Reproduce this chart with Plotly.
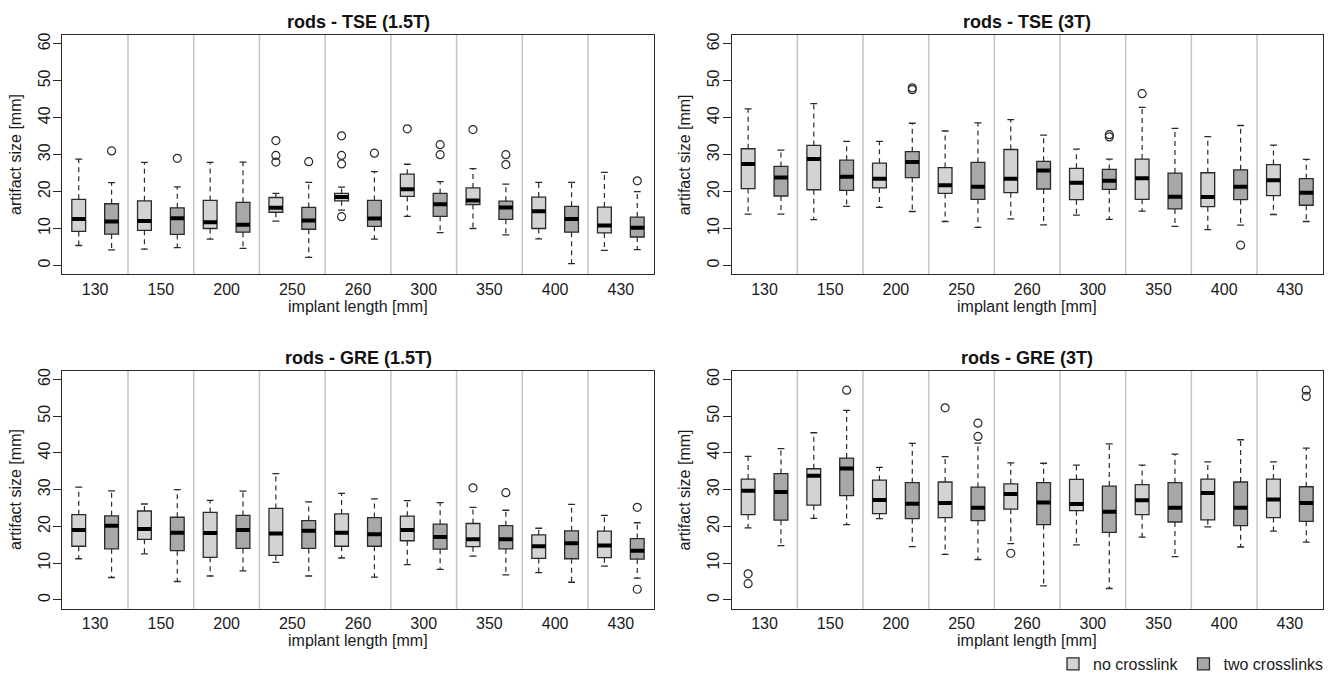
import plotly.graph_objects as go

# ---------------- data ----------------
lengths = ["130", "150", "200", "250", "260", "300", "350", "400", "430"]
groups = ["no crosslink", "two crosslinks"]
panel_titles = ["rods - TSE (1.5T)", "rods - TSE (3T)", "rods - GRE (1.5T)", "rods - GRE (3T)"]

# each array: [130 no, 130 two, 150 no, 150 two, ...]
tse15_lo = [5.4, 4.2, 4.4, 4.8, 7.1, 4.6, 12.0, 2.2, 15.0, 7.1, 13.3, 8.9, 10.0, 8.3, 7.2, 0.5, 4.1, 4.3]
tse15_q1 = [9.2, 8.5, 9.5, 8.4, 10.0, 9.0, 14.4, 9.8, 17.5, 10.6, 18.7, 13.3, 16.5, 12.5, 10.0, 9.0, 8.8, 7.7]
tse15_med = [12.6, 11.9, 12.0, 12.8, 11.7, 11.0, 15.6, 12.2, 18.5, 12.7, 20.6, 16.6, 17.6, 15.7, 14.7, 12.6, 10.8, 10.2]
tse15_q3 = [17.9, 16.7, 17.5, 15.6, 17.6, 17.1, 18.4, 15.7, 19.5, 17.6, 24.7, 19.5, 21.0, 17.4, 18.5, 16.0, 15.8, 13.1]
tse15_hi = [28.8, 22.4, 27.9, 21.3, 27.9, 28.0, 19.5, 22.5, 21.2, 25.4, 27.4, 22.7, 26.2, 22.0, 22.5, 22.5, 25.2, 20.0]
tse15_out = [[], [31.0], [], [29.0], [], [], [33.8, 29.8, 28.0], [28.1], [35.1, 29.8, 27.5, 13.2], [30.4],
             [37.0], [32.7, 30.0], [36.8], [30.0, 27.3], [], [], [], [22.9]]

tse3_lo = [13.9, 13.9, 12.4, 16.0, 15.7, 14.6, 11.9, 10.3, 12.6, 11.0, 13.6, 12.5, 14.7, 10.6, 9.7, 10.9, 13.8, 11.9]
tse3_q1 = [20.8, 18.8, 20.5, 20.3, 21.0, 23.8, 19.5, 17.9, 19.7, 20.7, 17.8, 20.6, 17.9, 15.3, 15.9, 17.8, 18.9, 16.3]
tse3_med = [27.5, 23.8, 28.8, 24.0, 23.5, 28.0, 21.7, 21.3, 23.5, 25.7, 22.4, 22.9, 23.6, 18.6, 18.5, 21.3, 23.1, 19.7]
tse3_q3 = [31.6, 26.8, 32.5, 28.5, 27.7, 30.8, 26.5, 27.9, 31.4, 28.2, 26.3, 26.0, 28.8, 25.0, 25.1, 25.9, 27.3, 23.5]
tse3_hi = [42.4, 31.2, 43.8, 33.6, 33.6, 38.5, 36.4, 38.6, 39.5, 35.3, 31.5, 28.8, 42.8, 37.1, 34.9, 37.9, 32.6, 28.7]
tse3_out = [[], [], [], [], [], [48.1, 47.6], [], [], [], [], [], [35.4, 34.8], [46.5], [], [], [5.5], [], []]

gre15_lo = [11.2, 6.1, 12.5, 5.0, 6.5, 7.9, 10.2, 6.5, 11.4, 6.2, 9.6, 8.3, 11.9, 6.8, 7.4, 4.8, 9.2, 5.9]
gre15_q1 = [14.6, 13.9, 16.5, 13.4, 11.6, 14.0, 12.1, 14.0, 14.6, 14.6, 16.1, 13.8, 14.5, 13.9, 11.3, 11.2, 11.5, 11.1]
gre15_med = [19.0, 20.2, 19.3, 18.3, 18.2, 19.0, 18.1, 18.8, 18.3, 17.9, 19.0, 17.1, 16.5, 16.5, 14.6, 15.4, 14.8, 13.4]
gre15_q3 = [23.2, 22.9, 24.2, 22.5, 23.8, 23.0, 24.9, 21.6, 23.4, 22.4, 22.8, 20.6, 20.8, 20.2, 17.7, 18.8, 18.7, 16.7]
gre15_hi = [30.7, 29.7, 26.1, 30.0, 27.1, 29.6, 34.4, 26.7, 29.0, 27.5, 27.0, 26.5, 25.2, 24.4, 19.5, 26.0, 23.0, 21.0]
gre15_out = [[], [], [], [], [], [], [], [], [], [], [], [], [30.5], [29.2], [], [], [], [25.2, 2.9]]

gre3_lo = [19.6, 14.8, 22.2, 20.5, 22.1, 14.5, 12.4, 11.0, 15.3, 3.8, 15.0, 3.1, 17.1, 11.8, 19.9, 14.4, 18.7, 15.7]
gre3_q1 = [23.2, 21.7, 25.8, 28.4, 23.5, 22.1, 22.4, 21.6, 24.7, 20.5, 24.3, 18.4, 23.2, 21.2, 21.8, 20.2, 22.4, 21.4]
gre3_med = [29.7, 29.4, 33.8, 35.8, 27.2, 26.2, 26.4, 25.1, 28.8, 26.5, 26.1, 24.0, 27.1, 25.1, 29.1, 25.1, 27.3, 26.4]
gre3_q3 = [32.9, 34.4, 35.7, 38.6, 32.6, 31.9, 32.1, 30.7, 31.6, 31.9, 32.8, 31.0, 31.4, 31.9, 32.9, 32.1, 32.9, 30.8]
gre3_hi = [39.1, 41.2, 45.5, 51.6, 36.1, 42.6, 39.0, 42.7, 37.3, 37.2, 36.7, 42.5, 36.7, 39.7, 37.6, 43.6, 37.6, 41.3]
gre3_out = [[7.1, 4.4], [], [], [57.1], [], [], [52.3], [48.1, 44.5], [12.7], [], [], [], [], [], [], [], [], [57.1, 55.4]]

y_ticks = [0, 10, 20, 30, 40, 50, 60]

panels = [
    (tse15_lo, tse15_q1, tse15_med, tse15_q3, tse15_hi, tse15_out),
    (tse3_lo, tse3_q1, tse3_med, tse3_q3, tse3_hi, tse3_out),
    (gre15_lo, gre15_q1, gre15_med, gre15_q3, gre15_hi, gre15_out),
    (gre3_lo, gre3_q1, gre3_med, gre3_q3, gre3_hi, gre3_out),
]

# ---------------- style ----------------
W, H = 1333, 674
FONT = "Liberation Sans, Arial, Helvetica, sans-serif"
fills = ["#d3d3d3", "#a8a8a8"]
EDGE = "#2a2a2a"
HALF = 0.21          # half box width (data units)
STAPLE = 0.105       # half staple width

# plot-area frames in page pixels (left, right, top, bottom)
frames = [(62.3, 653.7, 35.0, 274.3), (731.7, 1322.7, 35.0, 274.3),
          (62.3, 653.7, 370.7, 608.7), (731.7, 1322.7, 370.7, 608.7)]


def px(xp):
    return xp / W


def py(yp):
    return 1 - yp / H


fig = go.Figure()
layout = dict(width=W, height=H, margin=dict(l=0, r=0, t=0, b=0, autoexpand=False),
              paper_bgcolor="white", plot_bgcolor="white",
              font=dict(family=FONT, size=16, color="#1a1a1a"),
              showlegend=True, shapes=[], annotations=[])

n = len(lengths)
positions = list(range(1, 2 * n + 1))

for p, (lo, q1, med, q3, hi, out) in enumerate(panels):
    ax = "" if p == 0 else str(p + 1)
    xref, yref = "x" + ax, "y" + ax
    l, r, t, b = frames[p]
    layout["xaxis" + ax] = dict(domain=[px(l), px(r)], range=[0.5, 2 * n + 0.5],
                                showline=True, mirror=True, linecolor=EDGE, linewidth=1.3,
                                showgrid=False, zeroline=False, ticks="",
                                tickvals=[2 * i + 1.5 for i in range(n)], ticktext=lengths,
                                tickfont=dict(size=16), anchor=yref, fixedrange=True)
    layout["yaxis" + ax] = dict(domain=[py(b), py(t)], range=[-2.4, 62.4],
                                showline=True, mirror=True, linecolor=EDGE, linewidth=1.3,
                                showgrid=False, zeroline=False, ticks="outside", ticklen=8,
                                tickcolor=EDGE, tickwidth=1.2, ticklabelstandoff=-3,
                                tickvals=y_ticks, tickangle=-90, tickfont=dict(size=16),
                                anchor=xref, fixedrange=True)
    # group separators
    for i in range(1, n):
        layout["shapes"].append(dict(type="line", xref=xref, yref=yref + " domain",
                                     x0=2 * i + 0.5, x1=2 * i + 0.5, y0=0, y1=1,
                                     line=dict(color="#c4c4c4", width=1.5), layer="below"))
    for g in range(2):
        idx = list(range(g, 2 * n, 2))
        xs = [positions[k] for k in idx]
        wx, wy = [], []
        sx, sy = [], []
        mx, my = [], []
        for k in idx:
            c = positions[k]
            wx += [c, c, None, c, c, None]
            wy += [q3[k], hi[k], None, q1[k], lo[k], None]
            sx += [c - STAPLE, c + STAPLE, None, c - STAPLE, c + STAPLE, None]
            sy += [hi[k], hi[k], None, lo[k], lo[k], None]
            mx += [c - HALF, c + HALF, None]
            my += [med[k], med[k], None]
        fig.add_trace(go.Scatter(x=wx, y=wy, mode="lines", xaxis=xref, yaxis=yref,
                                 line=dict(color=EDGE, width=1.2, dash="5px,4px"),
                                 showlegend=False, hoverinfo="skip"))
        fig.add_trace(go.Scatter(x=sx, y=sy, mode="lines", xaxis=xref, yaxis=yref,
                                 line=dict(color=EDGE, width=1.3),
                                 showlegend=False, hoverinfo="skip"))
        fig.add_trace(go.Box(x=xs, q1=[q1[k] for k in idx], median=[med[k] for k in idx],
                             q3=[q3[k] for k in idx],
                             lowerfence=[q1[k] for k in idx], upperfence=[q3[k] for k in idx],
                             width=2 * HALF, whiskerwidth=0, boxpoints=False,
                             fillcolor=fills[g], line=dict(color=EDGE, width=1.3),
                             name=groups[g], legendgroup=groups[g],
                             showlegend=(p == 0), xaxis=xref, yaxis=yref, hoverinfo="skip"))
        fig.add_trace(go.Scatter(x=mx, y=my, mode="lines", xaxis=xref, yaxis=yref,
                                 line=dict(color="#000000", width=4),
                                 showlegend=False, hoverinfo="skip"))
        ox, oy = [], []
        for k in idx:
            for v in out[k]:
                ox.append(positions[k])
                oy.append(v)
        fig.add_trace(go.Scatter(x=ox, y=oy, mode="markers", xaxis=xref, yaxis=yref,
                                 marker=dict(symbol="circle-open", size=8,
                                             line=dict(color=EDGE, width=1.2), color=EDGE),
                                 showlegend=False, hoverinfo="skip"))
    cx = px((l + r) / 2)
    layout["annotations"].append(dict(text="<b>" + panel_titles[p] + "</b>", xref="paper", yref="paper",
                                      x=cx, y=py(t - 13), showarrow=False,
                                      xanchor="center", yanchor="middle", font=dict(size=18, color="#111")))
    layout["annotations"].append(dict(text="implant length [mm]", xref="paper", yref="paper",
                                      x=cx, y=py(b + 32), showarrow=False,
                                      xanchor="center", yanchor="middle", font=dict(size=16)))
    layout["annotations"].append(dict(text="artifact size [mm]", xref="paper", yref="paper",
                                      x=px(l - 47), y=py((t + b) / 2), showarrow=False,
                                      textangle=-90, xanchor="center", yanchor="middle",
                                      font=dict(size=16)))

layout["legend"] = dict(orientation="h", x=px(1053), xanchor="left", y=py(664), yanchor="middle",
                        font=dict(size=16), bgcolor="rgba(0,0,0,0)", itemclick=False, itemdoubleclick=False)
fig.update_layout(**layout)
fig.write_html("out.html", config={"displayModeBar": False},
               post_script="document.body.style.margin='0';")
